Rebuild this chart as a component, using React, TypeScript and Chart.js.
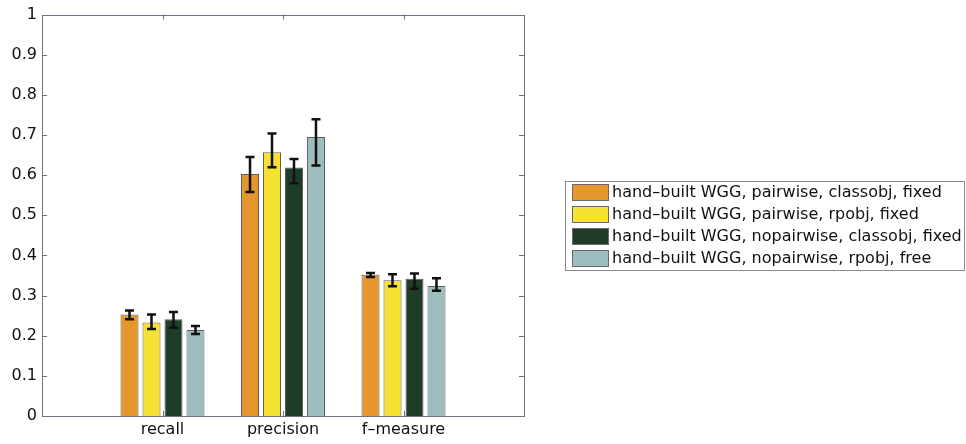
import React, { useEffect, useRef } from 'react';
import { Chart, registerables } from 'chart.js';

Chart.register(...registerables);

// ---- data ----
const categories = ['', 'recall', 'precision', 'f–measure', ''];
const seriesLabels = [
  'hand–built WGG, pairwise, classobj, fixed',
  'hand–built WGG, pairwise, rpobj, fixed',
  'hand–built WGG, nopairwise, classobj, fixed',
  'hand–built WGG, nopairwise, rpobj, free',
];
const seriesColors = ['#E5962D', '#F6E233', '#1E3C27', '#9DBDBF'];

const classobjFixedValues = [null, 0.253, 0.603, 0.352, null];
const rpobjFixedValues = [null, 0.233, 0.657, 0.338, null];
const nopairClassobjValues = [null, 0.241, 0.619, 0.342, null];
const nopairRpobjFreeValues = [null, 0.214, 0.695, 0.324, null];

const classobjFixedLow = [null, 0.241, 0.558, 0.346, null];
const classobjFixedHigh = [null, 0.263, 0.645, 0.356, null];
const rpobjFixedLow = [null, 0.217, 0.62, 0.323, null];
const rpobjFixedHigh = [null, 0.253, 0.704, 0.353, null];
const nopairClassobjLow = [null, 0.22, 0.58, 0.317, null];
const nopairClassobjHigh = [null, 0.259, 0.64, 0.355, null];
const nopairRpobjFreeLow = [null, 0.204, 0.624, 0.312, null];
const nopairRpobjFreeHigh = [null, 0.224, 0.739, 0.343, null];

const yTicks = [0, 0.1, 0.2, 0.3, 0.4, 0.5, 0.6, 0.7, 0.8, 0.9, 1];

const seriesValues = [classobjFixedValues, rpobjFixedValues, nopairClassobjValues, nopairRpobjFreeValues];
const seriesLow = [classobjFixedLow, rpobjFixedLow, nopairClassobjLow, nopairRpobjFreeLow];
const seriesHigh = [classobjFixedHigh, rpobjFixedHigh, nopairClassobjHigh, nopairRpobjFreeHigh];

const FONT = '"DejaVu Sans", Arial, sans-serif';
const AXIS_COLOR = '#6f7080';

const frameAndErrors = {
  id: 'frameAndErrors',
  afterDatasetsDraw(chart: any) {
    const ctx = chart.ctx;
    const ys = chart.scales.y;
    // error bars
    ctx.save();
    ctx.strokeStyle = '#111';
    ctx.lineWidth = 2.5;
    seriesValues.forEach((vals, i) => {
      const meta = chart.getDatasetMeta(i);
      meta.data.forEach((el: any, j: number) => {
        if (vals[j] == null) return;
        const lo = ys.getPixelForValue(seriesLow[i][j] as number);
        const hi = ys.getPixelForValue(seriesHigh[i][j] as number);
        const x = el.x;
        ctx.beginPath();
        ctx.moveTo(x, lo);
        ctx.lineTo(x, hi);
        ctx.moveTo(x - 4.5, lo);
        ctx.lineTo(x + 4.5, lo);
        ctx.moveTo(x - 4.5, hi);
        ctx.lineTo(x + 4.5, hi);
        ctx.stroke();
      });
    });
    ctx.restore();

    // frame and inward ticks
    const a = chart.chartArea;
    const xs = chart.scales.x;
    ctx.save();
    ctx.strokeStyle = AXIS_COLOR;
    ctx.lineWidth = 1;
    ctx.strokeRect(Math.round(a.left) + 0.5, Math.round(a.top) + 0.5, Math.round(a.right - a.left), Math.round(a.bottom - a.top));
    ctx.beginPath();
    yTicks.forEach((t) => {
      const y = Math.round(ys.getPixelForValue(t)) + 0.5;
      ctx.moveTo(a.left, y);
      ctx.lineTo(a.left + 5, y);
      ctx.moveTo(a.right, y);
      ctx.lineTo(a.right - 5, y);
    });
    categories.forEach((c, i) => {
      if (!c) return;
      const x = Math.round(xs.getPixelForValue(i)) + 0.5;
      ctx.moveTo(x, a.bottom);
      ctx.lineTo(x, a.bottom - 5);
      ctx.moveTo(x, a.top);
      ctx.lineTo(x, a.top + 5);
    });
    ctx.stroke();
    ctx.restore();
  },
  afterDraw(chart: any) {
    const ctx = chart.ctx;
    ctx.save();
    const bx = 565, by = 181, bw = 399, bh = 89;
    ctx.fillStyle = '#fff';
    ctx.fillRect(bx, by, bw, bh);
    ctx.strokeStyle = '#8a8a95';
    ctx.lineWidth = 1;
    ctx.strokeRect(bx + 0.5, by + 0.5, bw, bh);
    ctx.font = `16px ${FONT}`;
    ctx.textBaseline = 'middle';
    ctx.textAlign = 'left';
    seriesLabels.forEach((lab, i) => {
      const cy = 192.5 + i * 22;
      ctx.fillStyle = seriesColors[i];
      ctx.fillRect(572, cy - 8.5, 37, 17);
      ctx.strokeStyle = '#6a6a6a';
      ctx.strokeRect(572.5, cy - 8, 36, 16);
      ctx.fillStyle = '#111';
      ctx.fillText(lab, 612, cy + 0.5);
    });
    ctx.restore();
  },
};

export default function App() {
  const ref = useRef<HTMLCanvasElement | null>(null);
  useEffect(() => {
    document.body.style.margin = '0';
    const canvas = ref.current;
    if (!canvas) return;
    const chart = new Chart(canvas, {
      type: 'bar',
      data: {
        labels: categories,
        datasets: seriesLabels.map((label, i) => ({
          label,
          data: seriesValues[i],
          backgroundColor: seriesColors[i],
          borderColor: '#5d5d5d',
          borderWidth: 1,
          categoryPercentage: 0.73,
          barPercentage: 0.82,
        })),
      },
      options: {
        responsive: false,
        animation: false,
        layout: { padding: { top: 14, right: 442, left: 0, bottom: 0 } },
        plugins: { legend: { display: false }, tooltip: { enabled: false } },
        scales: {
          x: {
            type: 'category',
            offset: false,
            grid: { display: false, drawTicks: false },
            border: { display: false },
            ticks: {
              autoSkip: false,
              maxRotation: 0,
              padding: 4,
              color: '#111',
              font: { family: FONT, size: 16 },
            },
            afterFit: (s: any) => { s.height = 28; },
          },
          y: {
            min: 0,
            max: 1,
            grid: { display: false, drawTicks: false },
            border: { display: false },
            afterBuildTicks: (s: any) => { s.ticks = yTicks.map((v) => ({ value: v })); },
            ticks: {
              padding: 5,
              color: '#111',
              font: { family: FONT, size: 16 },
              callback: (v: any) => String(Math.round(Number(v) * 10) / 10),
            },
            afterFit: (s: any) => { s.width = 42; },
          },
        },
      },
      plugins: [frameAndErrors],
    });
    return () => chart.destroy();
  }, []);
  return <canvas ref={ref} width={966} height={444} style={{ display: 'block', width: 966, height: 444 }} />;
}
